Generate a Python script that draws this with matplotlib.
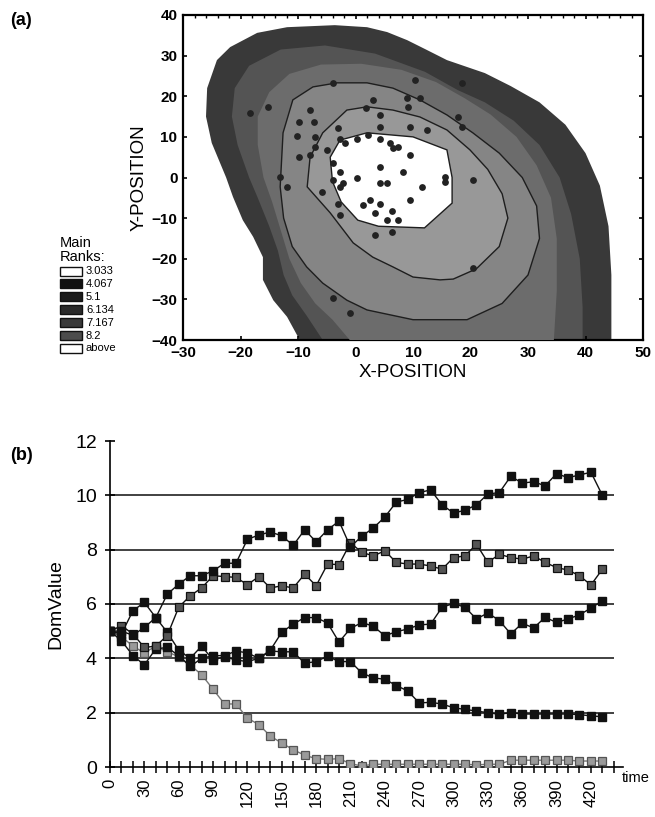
import numpy as np
import matplotlib
matplotlib.use("Agg")
import matplotlib.pyplot as plt
from matplotlib.patches import Polygon, Rectangle

# ---------------- data: panel (b) ----------------
time = list(range(0, 440, 10))
series_a = [5.0, 5.0, 4.85, 5.14, 5.5, 6.36, 6.73, 7.04, 7.04, 7.22, 7.5, 7.5, 8.38, 8.54, 8.65,
            8.51, 8.16, 8.73, 8.29, 8.73, 9.05, 8.1, 8.5, 8.8, 9.2, 9.75, 9.85, 10.1, 10.2, 9.65,
            9.35, 9.45, 9.65, 10.05, 10.1, 10.7, 10.45, 10.5, 10.35, 10.8, 10.65, 10.75, 10.85, 10.0]
series_b = [5.0, 5.2, 4.9, 4.4, 4.45, 4.84, 5.88, 6.3, 6.59, 7.04, 7.01, 6.98, 6.71, 7.01, 6.59,
            6.67, 6.59, 7.1, 6.67, 7.47, 7.45, 8.25, 7.9, 7.77, 7.96, 7.53, 7.47, 7.47, 7.4, 7.28,
            7.71, 7.77, 8.2, 7.53, 7.83, 7.71, 7.65, 7.77, 7.53, 7.34, 7.25, 7.04, 6.7, 7.28]
series_c = [5.0, 4.65, 4.1, 3.76, 4.35, 4.4, 4.1, 3.7, 4.0, 4.1, 4.1, 4.27, 4.2, 4.0, 4.3,
            4.96, 5.26, 5.5, 5.5, 5.3, 4.6, 5.1, 5.32, 5.18, 4.83, 4.98, 5.08, 5.23, 5.26, 5.88,
            6.02, 5.88, 5.45, 5.67, 5.39, 4.9, 5.29, 5.12, 5.51, 5.32, 5.45, 5.6, 5.85, 6.12]
series_d = [5.0, 4.9, 5.75, 6.06, 5.5, 4.96, 4.3, 4.0, 4.45, 3.94, 4.06, 3.94, 3.88, 4.0, 4.27,
            4.24, 4.24, 3.82, 3.88, 4.08, 3.88, 3.88, 3.46, 3.28, 3.23, 3.0, 2.8, 2.36, 2.38, 2.32,
            2.18, 2.12, 2.06, 2.0, 1.94, 2.0, 1.95, 1.95, 1.95, 1.95, 1.95, 1.93, 1.88, 1.85]
series_e = [5.0, 4.8, 4.45, 4.2, 4.45, 4.25, 4.05, 3.75, 3.4, 2.86, 2.32, 2.32, 1.8, 1.56, 1.14,
            0.88, 0.64, 0.43, 0.31, 0.28, 0.31, 0.12, 0.04, 0.1, 0.1, 0.1, 0.1, 0.1, 0.1, 0.1,
            0.1, 0.1, 0.08, 0.1, 0.1, 0.25, 0.25, 0.25, 0.25, 0.25, 0.25, 0.22, 0.22, 0.22]
y_ticks_b = [0, 2, 4, 6, 8, 10, 12]
x_labels_b = list(range(0, 430, 30))

# ---------------- data: panel (a) ----------------
# contour region boundaries (x, y), from outermost to innermost
outer_edge = [(-9.7, -40), (-11.9, -34.3), (-14.3, -30.2), (-16.1, -25.2), (-16.1, -19.6),
              (-17.8, -14.6), (-19.6, -10.5), (-21.3, -4.8), (-22.5, 0), (-25, 8.5), (-26, 15),
              (-25.8, 22), (-24.1, 28.9), (-21.8, 32.1), (-17.1, 35.6), (-11.9, 37), (-3.6, 37.5),
              (2, 37), (5.5, 35.8), (9, 33.8), (12.4, 31.4), (15.9, 28.9), (19.4, 27.2),
              (22.5, 25.7), (27, 22.5), (32, 18.5), (36.5, 13), (40, 6), (42.5, -2), (44, -12),
              (44.5, -24), (44.5, -40)]
band1_edge = [(-5.7, -40), (-8.5, -34), (-11, -29), (-12.5, -24), (-13.5, -18), (-15, -12),
              (-17, -5), (-18.5, 0), (-20.5, 8), (-21.5, 15), (-21, 22), (-18.5, 27.5),
              (-13, 31.5), (-5.3, 32.5), (3.4, 30.5), (12.1, 26), (17.8, 21.5), (22.5, 18.5),
              (27.5, 14), (32, 8), (35.5, 0), (37.5, -9), (39, -20), (39.5, -32), (39.5, -40)]
band2_edge = [(-1, -40), (-4, -35), (-7, -31), (-9.5, -26), (-11.5, -20), (-13, -13),
              (-14.5, -6), (-16, 0), (-17, 8), (-17, 15), (-15, 21), (-11.5, 25.5), (-6, 27.8),
              (1, 28), (8, 26.5), (14, 23.5), (19, 19.5), (23.5, 15.5), (28, 10), (31.5, 3),
              (34, -5), (35, -15), (35, -28), (34.5, -40)]
band3_edge = [(-13.1, -2.3), (-12.5, -10), (-11, -17), (-8.5, -22), (-5.7, -26), (-1.5, -30.2),
              (2, -32.6), (10, -35), (19.4, -35), (25.5, -31), (30, -24), (32, -15), (31.5, -7),
              (29, 0), (25, 6), (20.4, 11), (15.9, 15.4), (11.2, 19.1), (6.5, 22), (2, 23.3),
              (-3.2, 23.3), (-7.4, 22.3), (-10.9, 19.1), (-12.6, 11)]
band4_edge = [(-8.4, -2.3), (-7.9, 5), (-5.7, 11), (-1.5, 16.6), (2, 17.4), (6.5, 16.6),
              (11.2, 14.9), (15.9, 11.7), (19.9, 6.8), (23, 2), (25.5, -4), (26.5, -10),
              (25, -17), (21, -22.5), (17, -25), (14.7, -25.2), (10, -24.5), (6.5, -22),
              (3, -19.6), (-0.4, -16.1), (-4.4, -8.7)]
center_edge = [(-4.4, 5), (-2.7, 9.2), (2, 11), (10, 10), (15.9, 6.8), (16.8, 0), (16.8, -6.3),
               (12, -12.4), (4, -12), (0.4, -10.5), (-2.5, -6), (-4, -1)]
region_colors = ["#393939", "#545454", "#6c6c6c", "#858585", "#989898", "#ffffff"]

dots_x = [-3.9, 10.3, -15.2, -7.9, 3.1, 1.9, 8.9, 11.2, 9.2, -9.9, -7.3, -3, 4.3, 4.3, 9.5, 12.4,
          18.5, -10.2, -7, -7, -5, -7.9, -9.9, -2.7, -1.8, 0.2, 2.2, 4.3, 6, 6.6, 7.4, 9.5,
          -3.9, -2.7, 4.3, 8.3, -3.9, -2.1, -2.7, 0.2, 4.3, 5.4, 11.5, 15.6, 15.6, 20.5, -13.1,
          -5.9, -3, 1.3, 2.5, 4.3, 3.4, 6.3, 5.4, 7.4, 9.5, -2.7, 3.4, 6.3, 20.5, -3.9, -1,
          -12, -18.3, 18.5, 17.8]
dots_y = [23.2, 24, 17.4, 16.6, 19.1, 17, 19.5, 19.5, 17.4, 13.7, 13.7, 12.1, 15.4, 12.5, 12.5,
          11.7, 12.5, 10.2, 10, 7.6, 6.8, 5.5, 5, 9.6, 8.4, 9.6, 10.5, 9.6, 8.4, 7.2, 7.6, 5.5,
          3.5, 1.4, 2.7, 1.4, -0.6, -1.4, -2.3, -0.2, -1.3, -1.3, -2.3, -1, 0.2, -0.6, 0.2,
          -3.5, -6.4, -6.8, -5.5, -6.4, -8.8, -8.2, -10.5, -10.5, -5.5, -9.2, -14.2, -13.3,
          -22.3, -29.7, -33.4, -2.3, 15.8, 23.2, 14.9]

legend_labels = ["3.033", "4.067", "5.1", "6.134", "7.167", "8.2", "above"]
legend_colors = ["#ffffff", "#111111", "#1c1c1c", "#2a2a2a", "#3a3a3a", "#4c4c4c", "#ffffff"]

# ---------------- figure ----------------
W, H = 655, 817
fig = plt.figure(figsize=(W / 100, H / 100), dpi=100)
plt.rcParams['font.family'] = ['Liberation Sans', 'DejaVu Sans']


def frac(x0, y0, x1, y1):
    return [x0 / W, 1 - y1 / H, (x1 - x0) / W, (y1 - y0) / H]


# ---- panel (a)
ax1 = fig.add_axes(frac(183, 15, 643, 340))
boundaries = [outer_edge, band1_edge, band2_edge, band3_edge, band4_edge, center_edge]
for i, (pts, col) in enumerate(zip(boundaries, region_colors)):
    lw = 1.0 if i >= 3 else 0
    ax1.add_patch(Polygon(pts, closed=True, facecolor=col,
                          edgecolor="#1e1e1e" if lw else col, linewidth=lw, zorder=1 + i))
ax1.scatter(dots_x, dots_y, s=24, color="#222222", zorder=10, linewidths=0)
ax1.set_xlim(-30, 50)
ax1.set_ylim(-40, 40)
ax1.set_xticks(range(-30, 51, 10))
ax1.set_yticks(range(-40, 41, 10))
ax1.set_xticks(np.arange(-30, 51, 2), minor=True)
ax1.tick_params(axis='both', which='major', direction='in', length=3, width=1.2,
                labelsize=11, top=True, right=True, pad=4)
ax1.tick_params(axis='x', which='minor', direction='in', length=2.5, width=1, top=True,
                bottom=False)
for lab in ax1.get_xticklabels() + ax1.get_yticklabels():
    lab.set_fontweight('bold')
for sp in ax1.spines.values():
    sp.set_linewidth(1.6)
ax1.set_xlabel("X-POSITION", fontsize=13.5, labelpad=3)
ax1.set_ylabel("Y-POSITION", fontsize=13.5, labelpad=3)

# ---- panel (b)
ax2 = fig.add_axes(frac(110, 441, 623, 767))
ax2.hlines([2, 4, 6, 8, 10], 0, 440, color="#333333", linewidth=1.3, zorder=1)
mk = dict(marker='s', markersize=5.5, linewidth=1.0, zorder=3)
ax2.plot(time, series_e, color="#777777", markerfacecolor="#9a9a9a",
         markeredgecolor="#555555", markeredgewidth=0.9, **mk)
ax2.plot(time, series_d, color="#111111", markerfacecolor="#111111",
         markeredgecolor="#111111", **mk)
ax2.plot(time, series_c, color="#111111", markerfacecolor="#111111",
         markeredgecolor="#111111", **mk)
ax2.plot(time, series_b, color="#111111", markerfacecolor="#555555",
         markeredgecolor="#111111", markeredgewidth=0.9, **mk)
ax2.plot(time, series_a, color="#111111", markerfacecolor="#111111",
         markeredgecolor="#111111", **mk)
ax2.set_xlim(0, 448)
ax2.set_ylim(0, 12)
ax2.spines['top'].set_visible(False)
ax2.spines['right'].set_visible(False)
ax2.spines['left'].set_linewidth(1.2)
ax2.spines['bottom'].set_linewidth(1.2)
ax2.set_yticks(y_ticks_b)
ax2.set_yticklabels([str(v) for v in y_ticks_b])
ax2.tick_params(axis='y', direction='inout', length=7, width=1.2, labelsize=14, pad=6)
ax2.set_xticks(time + [440])
ax2.set_xticklabels([str(t) if t in x_labels_b else "" for t in time + [440]],
                    rotation=90)
ax2.tick_params(axis='x', direction='inout', length=9, width=1.1, labelsize=12, pad=4)
ax2.set_ylabel("DomValue", fontsize=14, labelpad=8)

# ---- overlay for panel letters and legend
ov = fig.add_axes([0, 0, 1, 1], facecolor='none')
ov.set_xlim(0, W)
ov.set_ylim(H, 0)
ov.axis('off')
ov.text(10, 20, "(a)", fontsize=13, fontweight='bold', va='center')
ov.text(10, 455, "(b)", fontsize=13, fontweight='bold', va='center')
ov.text(622, 778, "time", fontsize=10.5, ha='left', va='center')
ov.text(60, 243, "Main", fontsize=10.5, va='center')
ov.text(60, 257, "Ranks:", fontsize=10.5, va='center')
for i, (lab, col) in enumerate(zip(legend_labels, legend_colors)):
    yc = 271 + i * 12.9
    ov.add_patch(Rectangle((60, yc - 4.5), 22, 9, facecolor=col, edgecolor="#111111",
                           linewidth=1.0))
    ov.text(86, yc, lab, fontsize=8, va='center')

fig.savefig("out.png", dpi=100)
